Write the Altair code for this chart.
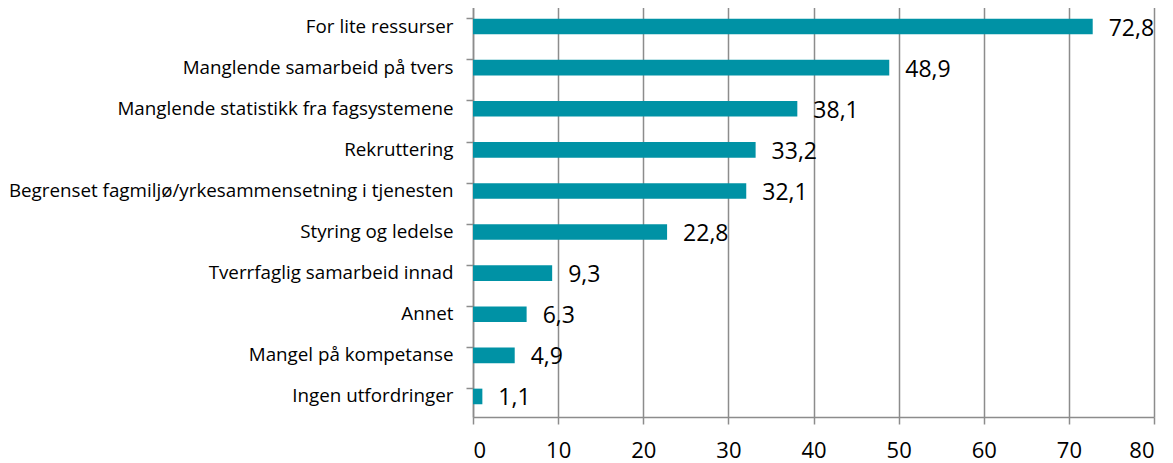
import altair as alt
import pandas as pd

categories = [
    "For lite ressurser",
    "Manglende samarbeid på tvers",
    "Manglende statistikk fra fagsystemene",
    "Rekruttering",
    "Begrenset fagmiljø/yrkesammensetning i tjenesten",
    "Styring og ledelse",
    "Tverrfaglig samarbeid innad",
    "Annet",
    "Mangel på kompetanse",
    "Ingen utfordringer",
]
values = [72.8, 48.9, 38.1, 33.2, 32.1, 22.8, 9.3, 6.3, 4.9, 1.1]
x_ticks = [0, 10, 20, 30, 40, 50, 60, 70, 80]

df = pd.DataFrame({"kategori": categories, "verdi": values})

FONT = "Open Sans"
TEAL = "#0092A5"
GRID = "#8C8C8C"

y_enc = alt.Y(
    "kategori:N",
    sort=categories,
    title=None,
    scale=alt.Scale(paddingInner=0.62, paddingOuter=0.31),
    axis=alt.Axis(
        labelFont=FONT,
        labelFontSize=18.8,
        labelColor="#000000",
        labelLimit=470,
        labelPadding=13,
        domainColor=GRID,
        domainWidth=1.5,
        tickColor=GRID,
        tickWidth=1.5,
        tickSize=7,
        bandPosition=0,
        grid=False,
    ),
)

x_enc = alt.X(
    "verdi:Q",
    title=None,
    scale=alt.Scale(domain=[0, 80], nice=False),
    axis=alt.Axis(
        values=x_ticks,
        labelFont=FONT,
        labelFontSize=22,
        labelColor="#000000",
        labelPadding=16,
        domainColor=GRID,
        domainWidth=1.5,
        tickColor=GRID,
        tickWidth=1.5,
        tickSize=7,
        grid=True,
        gridColor=GRID,
        gridWidth=1.5,
    ),
)

base = alt.Chart(df)

bars = base.mark_bar(color=TEAL).encode(x=x_enc, y=y_enc)

labels = base.transform_calculate(
    lab="replace(format(datum.verdi, '.1f'), '.', ',')"
).mark_text(
    align="left", baseline="middle", dx=16, dy=2, font=FONT, fontSize=23, color="#000000"
).encode(
    x=alt.X("verdi:Q"),
    y=alt.Y("kategori:N", sort=categories),
    text="lab:N",
)

chart = (
    alt.layer(bars, labels)
    .properties(
        width=681,
        height=411,
        autosize=alt.AutoSizeParams(type="none"),
        padding={"left": 465, "top": -2, "right": 10, "bottom": 46},
        background="#ffffff",
    )
    .configure_view(stroke=None)
)

chart.save("out.html", embed_options={"renderer": "svg", "actions": False})
